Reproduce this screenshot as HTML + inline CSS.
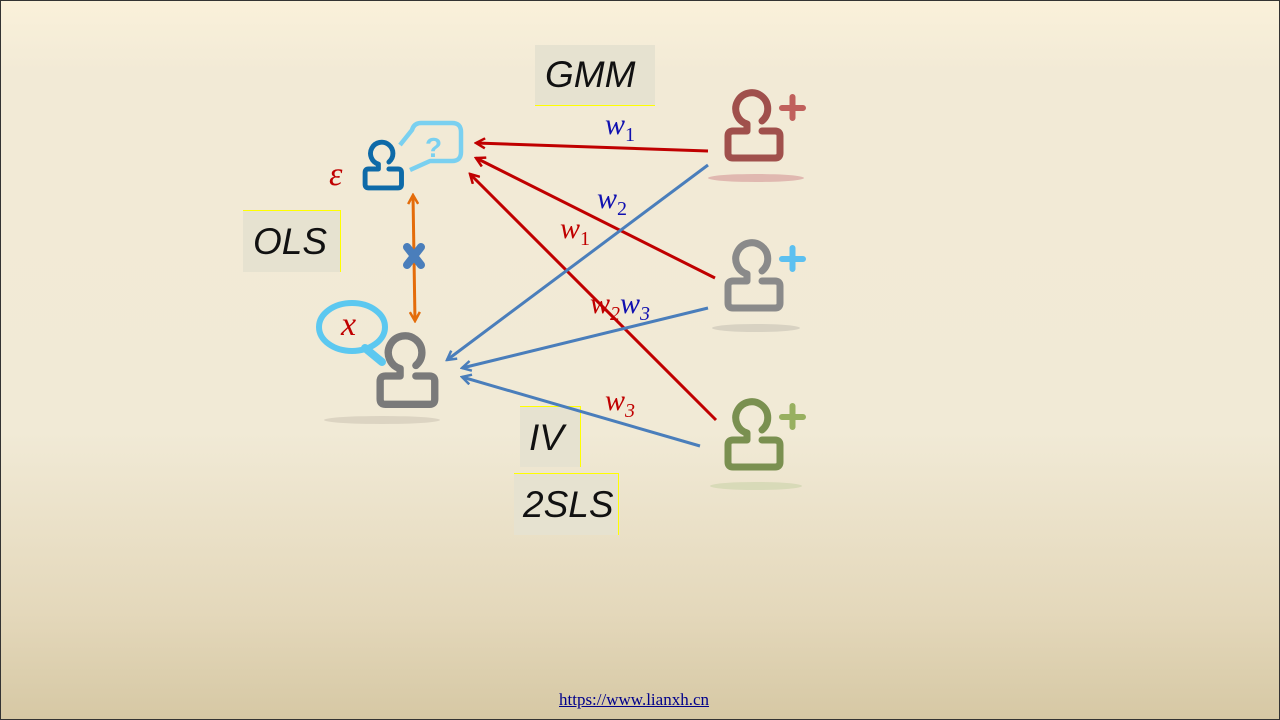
<!DOCTYPE html>
<html><head><meta charset="utf-8"><style>
html,body{margin:0;padding:0}
body{width:1280px;height:720px;overflow:hidden;background:linear-gradient(#faf1da 0%,#f2ead6 10%,#f1ead6 60%,#e4d8bb 85%,#d6c8a4 100%);font-family:"Liberation Sans",sans-serif;position:relative}
.box{position:absolute;background:#e6e2d0;border-top:1px solid #ffff00;border-right:1px solid #ffff00;font-style:italic;font-size:37px;color:#111;}
.m{font-family:"Liberation Serif",serif;font-style:italic}
</style></head><body>
<div style="position:absolute;inset:0;border:1px solid #333;box-sizing:border-box"></div>
<div class="box" style="left:535px;top:45px;width:120px;height:60px;border-top:none;border-right:none;border-bottom:1px solid #ffff00"><span style="position:absolute;left:10px;top:9px">GMM</span></div>
<div class="box" style="left:243px;top:210px;width:97px;height:61px"><span style="position:absolute;left:10px;top:10px">OLS</span></div>
<div class="box" style="left:520px;top:406px;width:60px;height:60px"><span style="position:absolute;left:9px;top:10px">IV</span></div>
<div class="box" style="left:514px;top:473px;width:104px;height:61px"><span style="position:absolute;left:9px;top:10px">2SLS</span></div>
<svg width="1280" height="720" style="position:absolute;left:0;top:0">
<defs>
<marker id="ar" markerWidth="12" markerHeight="12" refX="10" refY="6" orient="auto" markerUnits="userSpaceOnUse"><path d="M1,1 L10,6 L1,11" fill="none" stroke="#c00000" stroke-width="2.5"/></marker>
<marker id="ab" markerWidth="12" markerHeight="12" refX="10" refY="6" orient="auto" markerUnits="userSpaceOnUse"><path d="M1,1 L10,6 L1,11" fill="none" stroke="#4a7ebb" stroke-width="2.5"/></marker>
<marker id="ao" markerWidth="12" markerHeight="12" refX="10" refY="6" orient="auto-start-reverse" markerUnits="userSpaceOnUse"><path d="M1,1 L10,6 L1,11" fill="none" stroke="#e46c0a" stroke-width="2.5"/></marker>
<g id="p"><path d="M37,30 A16,16 0 1 0 22,33 L22,40 L8,40 Q3,40 3,45 L3,62 Q3,67 8,67 L50,67 Q55,67 55,62 L55,45 Q55,40 50,40 L37,40" fill="none" stroke-width="7" stroke-linejoin="round" stroke-linecap="round"/></g>
</defs>
<g stroke-width="3" fill="none">
<line x1="708" y1="151" x2="476" y2="143" stroke="#c00000" marker-end="url(#ar)"/>
<line x1="715" y1="278" x2="476" y2="158" stroke="#c00000" marker-end="url(#ar)"/>
<line x1="716" y1="420" x2="470" y2="174" stroke="#c00000" marker-end="url(#ar)"/>
<line x1="708" y1="165" x2="447" y2="360" stroke="#4a7ebb" marker-end="url(#ab)"/>
<line x1="708" y1="308" x2="462" y2="368" stroke="#4a7ebb" marker-end="url(#ab)"/>
<line x1="700" y1="446" x2="462" y2="377" stroke="#4a7ebb" marker-end="url(#ab)"/>
<line x1="413" y1="195" x2="415" y2="321" stroke="#e46c0a" marker-start="url(#ao)" marker-end="url(#ao)"/>
</g>
<path d="M407,247 L421,265 M421,247 L407,265" stroke="#4a7ebb" stroke-width="8" stroke-linecap="round"/>
<ellipse cx="756" cy="178" rx="48" ry="4" fill="#e0b8b0"/>
<ellipse cx="756" cy="328" rx="44" ry="4" fill="#d8d2c2"/>
<ellipse cx="756" cy="486" rx="46" ry="4" fill="#d8dab8"/>
<ellipse cx="382" cy="420" rx="58" ry="4" fill="#dcd4c2"/>
<use href="#p" transform="translate(725,91)" stroke="#a0504c"/>
<path d="M782,108 h21 M792.5,97 v21" stroke="#c0605c" stroke-width="6" stroke-linecap="round"/>
<use href="#p" transform="translate(725,241)" stroke="#8a8a8a"/>
<path d="M782,259 h21 M792.5,248 v21" stroke="#5cc0f0" stroke-width="6" stroke-linecap="round"/>
<use href="#p" transform="translate(725,400)" stroke="#7a9050"/>
<path d="M782,417 h21 M792.5,406 v21" stroke="#98b060" stroke-width="6" stroke-linecap="round"/>
<use href="#p" transform="translate(377,334) scale(1.05,1.05)" stroke="#7a7a7a"/>
<use href="#p" transform="translate(363,141) scale(0.7,0.7)" stroke="#0e6aa8"/>
<path d="M400,145 L412,130 Q414,123 421,123 L452,123 Q461,123 461,132 L461,152 Q461,161 452,161 L430,161 L410,170" fill="none" stroke="#7ad0f0" stroke-width="4.5" stroke-linejoin="round"/>
<text x="425" y="157" font-size="28" font-family="Liberation Sans" fill="#7ad0f0" font-weight="bold">?</text>
<ellipse cx="352" cy="327" rx="33" ry="24" fill="none" stroke="#5cc8f0" stroke-width="6"/>
<line x1="365" y1="348" x2="382" y2="362" stroke="#5cc8f0" stroke-width="8" stroke-linecap="round"/>
</svg>
<div class="m" style="position:absolute;left:341px;top:306px;font-size:34px;color:#c00000">x</div>
<div class="m" style="position:absolute;left:329px;top:156px;font-size:34px;color:#c00000">ε</div>
<div class="m" style="position:absolute;left:605px;top:108px;font-size:30px;color:#1010b0">w<sub style="font-size:20px;font-style:normal">1</sub></div>
<div class="m" style="position:absolute;left:597px;top:182px;font-size:30px;color:#1010b0">w<sub style="font-size:20px;font-style:normal">2</sub></div>
<div class="m" style="position:absolute;left:560px;top:212px;font-size:30px;color:#c00000">w<sub style="font-size:20px;font-style:normal">1</sub></div>
<div class="m" style="position:absolute;left:590px;top:287px;font-size:30px;color:#c00000">w<sub style="font-size:20px">2</sub><span style="color:#1010b0">w<sub style="font-size:20px">3</sub></span></div>
<div class="m" style="position:absolute;left:605px;top:384px;font-size:30px;color:#c00000">w<sub style="font-size:20px">3</sub></div>
<a style="position:absolute;left:559px;top:690px;font-family:'Liberation Serif',serif;font-size:17px;color:#00008b;text-decoration:underline">https://www.lianxh.cn</a>
</body></html>
